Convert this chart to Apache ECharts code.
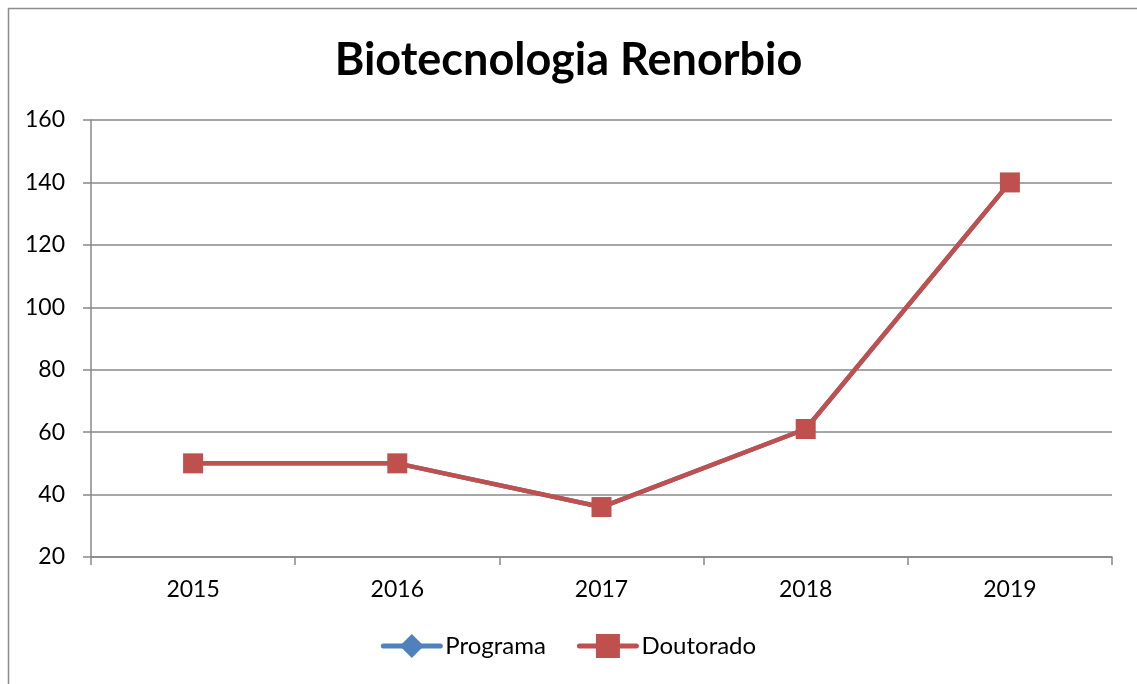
<!DOCTYPE html>
<html>
<head>
<meta charset="utf-8">
<script src="https://cdn.jsdelivr.net/npm/echarts@6/dist/echarts.min.js"></script>
<style>
  html, body { margin: 0; padding: 0; background: #fff; }
</style>
</head>
<body>
<div id="main" style="width: 1137px; height: 684px"></div>
<script>
// dados do gráfico
const years = ['2015', '2016', '2017', '2018', '2019']
const programa = [50, 50, 36, 61, 140]
const doutorado = [50, 50, 36, 61, 140]

const font = 'Lato, "Open Sans", sans-serif'
const myChart = echarts.init(document.getElementById('main'))
const option = {
  animation: false,
  title: {
    text: 'Biotecnologia Renorbio',
    left: 'center',
    top: 33,
    textStyle: { fontFamily: font, fontSize: 45, fontWeight: 'bold', color: '#000' }
  },
  graphic: [{
    type: 'rect',
    shape: { x: 8.5, y: 8.5, width: 1200, height: 720 },
    style: { fill: 'none', stroke: '#8c8c8c', lineWidth: 1.5 },
    silent: true
  }],
  legend: {
    bottom: 21,
    left: 'center',
    itemWidth: 57,
    itemHeight: 30,
    itemGap: 31,
    lineStyle: { width: 5, cap: 'round' },
    textStyle: { fontFamily: font, fontSize: 24, color: '#000' },
    data: ['Programa', 'Doutorado']
  },
  grid: { left: 91, right: 25, top: 120, bottom: 127 },
  xAxis: {
    type: 'category',
    data: years,
    boundaryGap: true,
    axisLine: { lineStyle: { color: '#888', width: 1.5 } },
    axisTick: { show: true, length: 8, lineStyle: { color: '#888', width: 1.5 } },
    axisLabel: { fontFamily: font, fontSize: 23, color: '#000', margin: 21 }
  },
  yAxis: {
    type: 'value',
    min: 20,
    max: 160,
    interval: 20,
    axisLine: { show: true, lineStyle: { color: '#888', width: 1.5 } },
    axisTick: { show: true, length: 8, lineStyle: { color: '#888', width: 1.5 } },
    axisLabel: { fontFamily: font, fontSize: 23, color: '#000', margin: 26 },
    splitLine: { lineStyle: { color: '#888', width: 1.5 } }
  },
  series: [
    {
      name: 'Programa',
      type: 'line',
      data: programa,
      symbol: 'diamond',
      symbolSize: 18,
      color: '#4F81BD',
      lineStyle: { width: 4.5, color: '#4F81BD' }
    },
    {
      name: 'Doutorado',
      type: 'line',
      data: doutorado,
      symbol: 'rect',
      symbolSize: 20,
      color: '#C0504D',
      lineStyle: { width: 4.5, color: '#C0504D' }
    }
  ]
}
myChart.setOption(option)
</script>
</body>
</html>
